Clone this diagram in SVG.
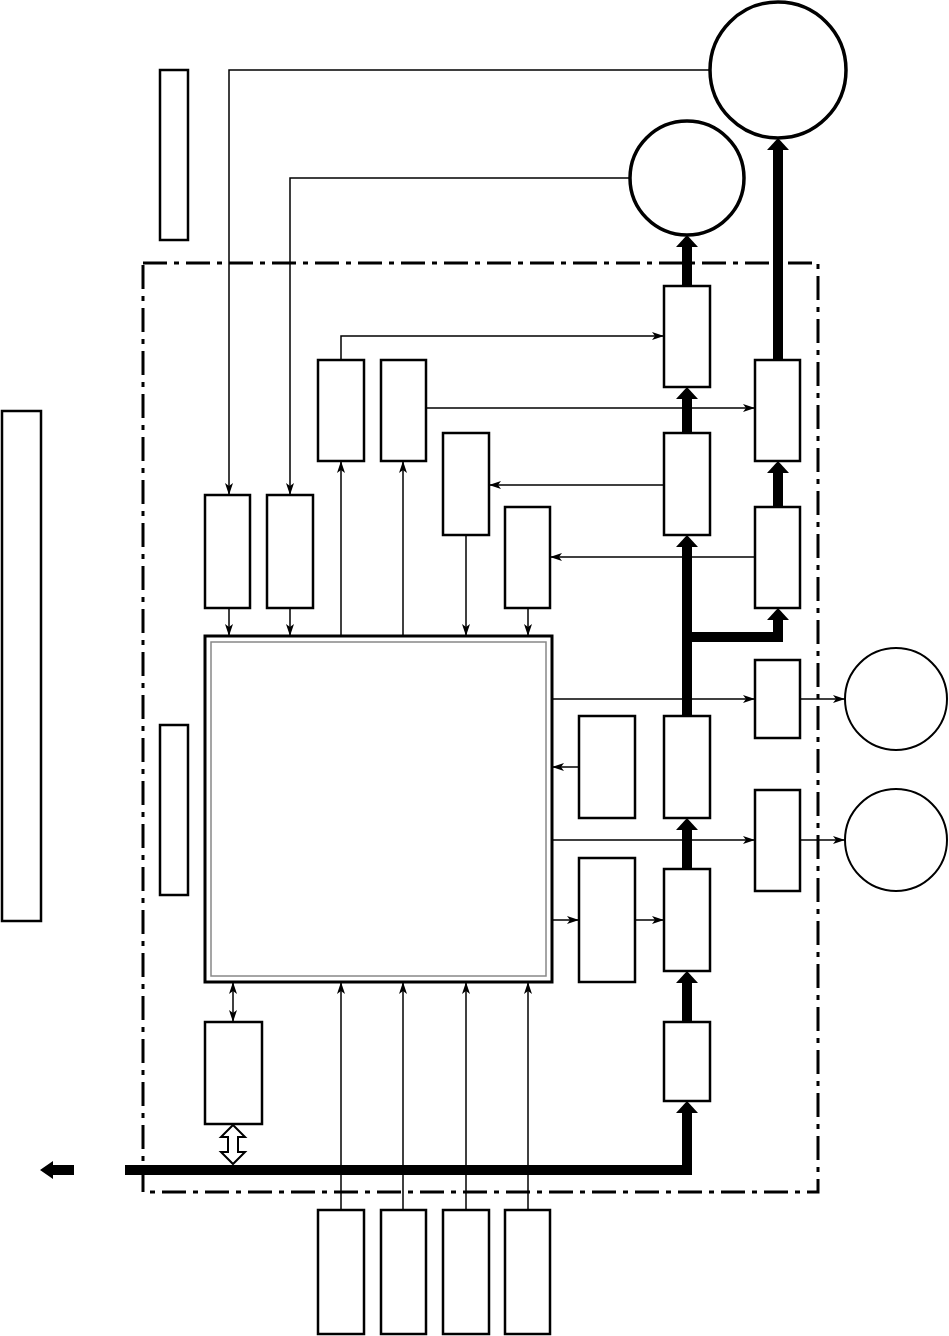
<svg xmlns="http://www.w3.org/2000/svg" width="949" height="1336" viewBox="0 0 949 1336">
<style>
.box{fill:#fff;stroke:#000;stroke-width:2.5}
.circ{fill:#fff;stroke:#000;stroke-width:3.5}
.circs{fill:#fff;stroke:#000;stroke-width:2}
.thin{fill:none;stroke:#000;stroke-width:1.5}
.thick{fill:none;stroke:#000;stroke-width:10;stroke-linejoin:miter;stroke-linecap:butt}
.head{fill:#000;stroke:none}
.frame{fill:none;stroke:#000;stroke-width:3;stroke-dasharray:24 7 5 7}
</style>
<defs>
<marker id="a" viewBox="0 0 12 8" refX="12" refY="4" markerWidth="12" markerHeight="8" markerUnits="userSpaceOnUse" orient="auto-start-reverse">
<path d="M0,0 L12,4 L0,8 L3,4 z" fill="#000"/>
</marker>
</defs>
<rect id="frame" class="frame" x="143" y="263" width="675" height="929"/>
<g id="n-leftbar"><rect class="box" x="2" y="411" width="39" height="510"/></g>
<g id="n-topleft"><rect class="box" x="160" y="70" width="28" height="170"/></g>
<g id="n-midleft"><rect class="box" x="160" y="725" width="28" height="170"/></g>
<g id="n-bigcircle"><circle class="circ" cx="778" cy="70" r="68"/></g>
<g id="n-smallcircle"><circle class="circ" cx="687" cy="178" r="57"/></g>
<g id="n-circleS"><circle class="circs" cx="896" cy="699" r="51"/></g>
<g id="n-circleT"><circle class="circs" cx="896" cy="840" r="51"/></g>
<g id="n-square">
<rect x="205" y="636" width="347" height="346" fill="#fff" stroke="#000" stroke-width="3"/>
<rect x="211" y="642" width="335" height="334" fill="none" stroke="#888" stroke-width="1.5"/>
</g>
<g id="n-A"><rect class="box" x="205" y="495" width="45" height="113"/></g>
<g id="n-B"><rect class="box" x="267" y="495" width="46" height="113"/></g>
<g id="n-C"><rect class="box" x="318" y="360" width="46" height="101"/></g>
<g id="n-D"><rect class="box" x="381" y="360" width="45" height="101"/></g>
<g id="n-E"><rect class="box" x="443" y="433" width="46" height="102"/></g>
<g id="n-F"><rect class="box" x="505" y="507" width="45" height="101"/></g>
<g id="n-G"><rect class="box" x="664" y="286" width="46" height="101"/></g>
<g id="n-H"><rect class="box" x="664" y="433" width="46" height="102"/></g>
<g id="n-I"><rect class="box" x="755" y="360" width="45" height="101"/></g>
<g id="n-J"><rect class="box" x="755" y="507" width="45" height="101"/></g>
<g id="n-K"><rect class="box" x="664" y="716" width="46" height="102"/></g>
<g id="n-L"><rect class="box" x="755" y="660" width="45" height="78"/></g>
<g id="n-M"><rect class="box" x="755" y="790" width="45" height="101"/></g>
<g id="n-N"><rect class="box" x="664" y="869" width="46" height="102"/></g>
<g id="n-O"><rect class="box" x="579" y="716" width="56" height="102"/></g>
<g id="n-P"><rect class="box" x="579" y="858" width="56" height="124"/></g>
<g id="n-Q"><rect class="box" x="664" y="1022" width="46" height="79"/></g>
<g id="n-R"><rect class="box" x="205" y="1022" width="57" height="102"/></g>
<g id="n-B1"><rect class="box" x="318" y="1210" width="46" height="124"/></g>
<g id="n-B2"><rect class="box" x="381" y="1210" width="45" height="124"/></g>
<g id="n-B3"><rect class="box" x="443" y="1210" width="46" height="124"/></g>
<g id="n-B4"><rect class="box" x="505" y="1210" width="45" height="124"/></g>
<g id="connectors">
<path class="thin" d="M710,70 H229 V495" marker-end="url(#a)"/>
<path class="thin" d="M630,178 H290 V495" marker-end="url(#a)"/>
<path class="thin" d="M229,608 V636" marker-end="url(#a)"/>
<path class="thin" d="M290,608 V636" marker-end="url(#a)"/>
<path class="thin" d="M341,636 V461" marker-end="url(#a)"/>
<path class="thin" d="M403,636 V461" marker-end="url(#a)"/>
<path class="thin" d="M466,535 V636" marker-end="url(#a)"/>
<path class="thin" d="M528,608 V636" marker-end="url(#a)"/>
<path class="thin" d="M341,360 V336 H664" marker-end="url(#a)"/>
<path class="thin" d="M426,408 H755" marker-end="url(#a)"/>
<path class="thin" d="M664,485 H489" marker-end="url(#a)"/>
<path class="thin" d="M755,557 H550" marker-end="url(#a)"/>
<path class="thin" d="M552,699 H755" marker-end="url(#a)"/>
<path class="thin" d="M800,699 H845" marker-end="url(#a)"/>
<path class="thin" d="M552,840 H755" marker-end="url(#a)"/>
<path class="thin" d="M800,840 H845" marker-end="url(#a)"/>
<path class="thin" d="M579,767 H552" marker-end="url(#a)"/>
<path class="thin" d="M552,920 H579" marker-end="url(#a)"/>
<path class="thin" d="M635,920 H664" marker-end="url(#a)"/>
<path class="thin" d="M233,982 V1022" marker-start="url(#a)" marker-end="url(#a)"/>
<path class="thin" d="M341,1210 V982" marker-end="url(#a)"/>
<path class="thin" d="M403,1210 V982" marker-end="url(#a)"/>
<path class="thin" d="M466,1210 V982" marker-end="url(#a)"/>
<path class="thin" d="M528,1210 V982" marker-end="url(#a)"/>
<path class="thick" d="M125,1170 H687 V1113"/>
<polygon class="head" points="676,1113 687,1101 698,1113"/>
<path class="thick" d="M687,1022 V983"/>
<polygon class="head" points="676,983 687,971 698,983"/>
<path class="thick" d="M687,869 V830"/>
<polygon class="head" points="676,830 687,818 698,830"/>
<path class="thick" d="M687,716 V547"/>
<polygon class="head" points="676,547 687,535 698,547"/>
<path class="thick" d="M687,637 H778 V620"/>
<polygon class="head" points="767,620 778,608 789,620"/>
<path class="thick" d="M687,433 V399"/>
<polygon class="head" points="676,399 687,387 698,399"/>
<path class="thick" d="M687,286 V247"/>
<polygon class="head" points="676,247 687,235 698,247"/>
<path class="thick" d="M778,507 V473"/>
<polygon class="head" points="767,473 778,461 789,473"/>
<path class="thick" d="M778,360 V150"/>
<polygon class="head" points="767,150 778,138 789,150"/>
<polygon class="head" points="40,1170 53,1161 53,1165 74,1165 74,1175 53,1175 53,1179"/>
<polygon points="233,1125 245,1137 238,1137 238,1152 245,1152 233,1164 221,1152 228,1152 228,1137 221,1137" fill="#fff" stroke="#000" stroke-width="2"/>
</g>
</svg>
